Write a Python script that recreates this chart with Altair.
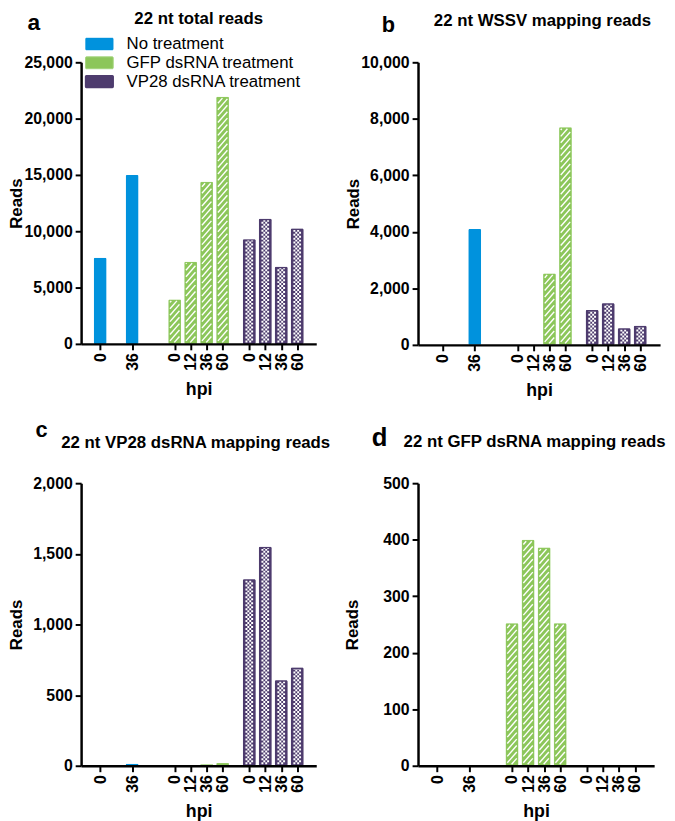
import altair as alt
import pandas as pd

FONT = "Liberation Sans"

groups = ["No treatment", "GFP dsRNA treatment", "VP28 dsRNA treatment"]
hpi_none = ["0", "36"]
hpi_dsrna = ["0", "12", "36", "60"]

total_none = [7650, 15000]
total_gfp = [3950, 7300, 14400, 21950]
total_vp28 = [9300, 11100, 6850, 10250]

wssv_none = [0, 4100]
wssv_gfp = [0, 0, 2530, 7700]
wssv_vp28 = [1230, 1470, 590, 680]

vp28map_none = [0, 15]
vp28map_gfp = [0, 0, 10, 20]
vp28map_vp28 = [1320, 1550, 605, 695]

gfpmap_none = [0, 0]
gfpmap_gfp = [252, 400, 386, 252]
gfpmap_vp28 = [0, 0, 0, 0]

panel_titles = ["22 nt total reads", "22 nt WSSV mapping reads",
                "22 nt VP28 dsRNA mapping reads", "22 nt GFP dsRNA mapping reads"]
panel_letters = ["a", "b", "c", "d"]
y_max = [25000, 10000, 2000, 500]
y_step = [5000, 2000, 500, 100]

fill_colors = ["#0092DD", "#8CC65A", "#4E3C6E"]
stroke_colors = ["#0092DD", "#A3D47C", "#4E3C6E"]
stroke_widths = [0.5, 1.5, 2]

# layout (slot units along x)
GROUP_START = [0, 14, 28]
GROUP_STEP = [6, 3, 3]
BAR_W = 13


def panel_df(vals):
    rows = []
    for g, (hpis, vs) in enumerate(zip([hpi_none, hpi_dsrna, hpi_dsrna], vals)):
        for i, (h, v) in enumerate(zip(hpis, vs)):
            rows.append(dict(group=groups[g], gi=g, hpi=h,
                             pos=GROUP_START[g] + GROUP_STEP[g] * i, value=v))
    return pd.DataFrame(rows)


def hatch_df(df, ymax, W, H, xmin, xmax):
    pxu = W / (xmax - xmin)
    pyu = H / ymax
    a, rise, gap, m = 5.0, 11.0, 6.5, 1.5
    rows = []
    for r in df[df.gi == 1].itertuples():
        h = r.value * pyu
        if h < 5:
            continue
        yl = -rise + 1.0
        while yl < h:
            t_lo = max(0.0, (m - yl) / rise)
            t_hi = min(1.0, (h - m - yl) / rise)
            if t_hi - t_lo > 0.05:
                x1 = -a + 2 * a * t_lo
                x2 = -a + 2 * a * t_hi
                y1 = yl + rise * t_lo
                y2 = yl + rise * t_hi
                rows.append(dict(hx1=r.pos + x1 / pxu, hx2=r.pos + x2 / pxu,
                                 hy1=y1 / pyu, hy2=y2 / pyu))
            yl += gap
    return pd.DataFrame(rows)


def checker_df(df, ymax, W, H, xmin, xmax):
    pxu = W / (xmax - xmin)
    pyu = H / ymax
    rows = []
    for r in df[df.gi == 2].itertuples():
        h = r.value * pyu
        if h < 5:
            continue
        for j, off in enumerate([-3, -1, 1, 3]):
            rows.append(dict(cx=r.pos + off / pxu, cy1=1.5 / pyu, cy2=(h - 1.5) / pyu,
                             phase=j % 2))
    return pd.DataFrame(rows)


# tick label expression built from the hpi lists
all_pos = []
expr = ""
for g, hpis in enumerate([hpi_none, hpi_dsrna, hpi_dsrna]):
    for i, h in enumerate(hpis):
        p = GROUP_START[g] + GROUP_STEP[g] * i
        all_pos.append(p)
        expr += f"datum.value == {p} ? '{h}' : "
expr += "''"

legend_path = "M-2.2,-1H2.2Q2.33,-1 2.33,-0.85V0.85Q2.33,1 2.2,1H-2.2Q-2.33,1 -2.33,0.85V-0.85Q-2.33,-1 -2.2,-1Z"


def make_panel(idx, vals, W, H, xmin, xmax, ytitle_x, title_xy, letter_xy, letter_size, legend):
    ymax = y_max[idx]
    df = panel_df(vals)
    xs = alt.Scale(domain=[xmin, xmax], nice=False, zero=False)
    ys = alt.Scale(domain=[0, ymax], nice=False)
    xaxis = alt.Axis(values=all_pos, labelExpr=expr, labelAngle=-90, title="hpi",
                     grid=False, domainColor="black", domainWidth=2.5, tickColor="black",
                     tickWidth=2, tickSize=6, labelFont=FONT, labelFontSize=16,
                     labelFontWeight="bold", labelColor="black", labelPadding=3,
                     titleFont=FONT, titleFontSize=18, titleFontWeight="bold",
                     titleColor="black", titleY=37, zindex=1)
    yaxis = alt.Axis(values=list(range(0, ymax + 1, y_step[idx])), format=",d", title="Reads",
                     grid=False, domainColor="black", domainWidth=2.5, tickColor="black",
                     tickWidth=2, tickSize=6, labelFont=FONT, labelFontSize=16,
                     labelFontWeight="bold", labelColor="black", labelPadding=3,
                     titleFont=FONT, titleFontSize=17, titleFontWeight="bold",
                     titleColor="black", titleX=ytitle_x, titleY=H / 2, zindex=1)
    if legend:
        leg = alt.Legend(orient="none", legendX=10, legendY=-27, title=None,
                         symbolType=legend_path, symbolSize=144, symbolStrokeWidth=0,
                         symbolOpacity=1, labelFont=FONT, labelFontSize=17,
                         labelColor="black", labelOffset=19, rowPadding=1, padding=0,
                         labelLimit=400)
    else:
        leg = None
    bars = alt.Chart(df).transform_filter("datum.value > 0").mark_bar(
        width=BAR_W, cornerRadius=1.5).encode(
        x=alt.X("pos:Q", scale=xs, axis=xaxis),
        y=alt.Y("value:Q", scale=ys, axis=yaxis),
        fill=alt.Fill("group:N", scale=alt.Scale(domain=groups, range=fill_colors), legend=leg),
        stroke=alt.Stroke("group:N", scale=alt.Scale(domain=groups, range=stroke_colors),
                          legend=None),
        strokeWidth=alt.StrokeWidth("group:N",
                                    scale=alt.Scale(domain=groups, range=stroke_widths),
                                    legend=None),
    )
    layers = [bars]
    hd = hatch_df(df, ymax, W, H, xmin, xmax)
    if len(hd):
        layers.append(alt.Chart(hd).mark_rule(color="white", strokeWidth=1.4).encode(
            x=alt.X("hx1:Q", scale=xs, axis=xaxis), x2="hx2:Q",
            y=alt.Y("hy1:Q", scale=ys, axis=yaxis), y2="hy2:Q"))
    cd = checker_df(df, ymax, W, H, xmin, xmax)
    if len(cd):
        for ph in [0, 1]:
            layers.append(alt.Chart(cd[cd.phase == ph]).mark_rule(
                color="white", strokeWidth=2, strokeDash=[2, 2],
                strokeDashOffset=2 * ph).encode(
                x=alt.X("cx:Q", scale=xs, axis=xaxis),
                y=alt.Y("cy1:Q", scale=ys, axis=yaxis), y2="cy2:Q"))
    t = alt.Chart(pd.DataFrame({"t": [panel_titles[idx]]})).mark_text(
        font=FONT, fontSize=17, fontWeight="bold", color="black",
        align="center", baseline="middle").encode(
        text="t:N", x=alt.value(title_xy[0]), y=alt.value(title_xy[1]))
    l = alt.Chart(pd.DataFrame({"t": [panel_letters[idx]]})).mark_text(
        font=FONT, fontSize=letter_size, fontWeight="bold", color="black",
        align="center", baseline="alphabetic").encode(
        text="t:N", x=alt.value(letter_xy[0]), y=alt.value(letter_xy[1]))
    layers += [t, l]
    return alt.layer(*layers).properties(width=W, height=H)


pa = make_panel(0, [total_none, total_gfp, total_vp28], 238, 285, -2.65, 39.65,
                -56, (119, -44), (-48, -33), 23, True)
pb = make_panel(1, [wssv_none, wssv_gfp, wssv_vp28], 245, 286, -3.7, 39.8,
                -56, (126, -42), (-30, -31), 22, False)
pc = make_panel(2, [vp28map_none, vp28map_gfp, vp28map_vp28], 238, 286, -2.65, 39.65,
                -56, (116, -41), (-40, -47), 22, False)
pd_ = make_panel(3, [gfpmap_none, gfpmap_gfp, gfpmap_vp28], 239, 286, -2.65, 39.65,
                 -57, (118, -42), (-39, -38), 26, False)

chart = alt.concat(pa, pb, pc, pd_, columns=2, spacing={"row": 20, "column": 13}).resolve_scale(
    x="independent", y="independent", fill="independent", stroke="independent",
    strokeWidth="independent").properties(
    padding={"left": 0, "top": -3, "right": 0, "bottom": 0}
).configure(font=FONT).configure_view(strokeWidth=0)

chart.save("out.html", embed_options={"renderer": "svg", "actions": False})
